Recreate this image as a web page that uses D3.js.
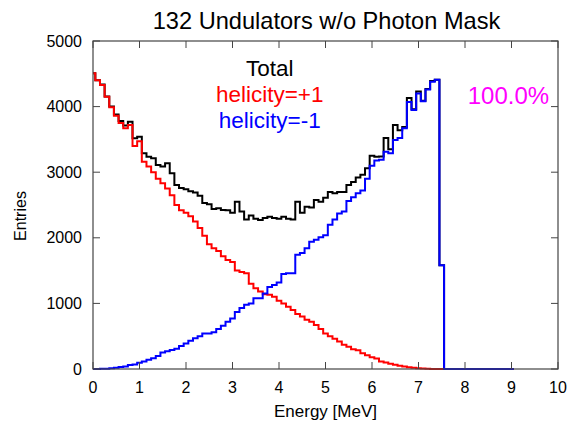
<!DOCTYPE html>
<meta charset="utf-8">
<style>
  body, html { margin: 0; padding: 0; background: #fff; }
  text { font-family: "Liberation Sans", Helvetica, Arial, sans-serif; }
</style>
<body>
<svg id="chart" width="570" height="425"></svg>
<script src="https://cdn.jsdelivr.net/npm/d3@7/dist/d3.min.js"></script>
<script>
// 0.1 MeV bins centred on multiples of 0.1 MeV
var binWidth = 0.1;
var binStart = -0.05;
var xTicks = [0, 1, 2, 3, 4, 5, 6, 7, 8, 9, 10];
var yTicks = [0, 1000, 2000, 3000, 4000, 5000];

// helicity = +1
var heliPlus = [4510, 4400, 4330, 4150, 3990, 3860, 3750, 3670, 3720, 3400,
                3470, 3160, 3085, 3000, 2900, 2830, 2750, 2650, 2500, 2420,
                2380, 2330, 2250, 2150, 2030, 1900, 1840, 1800, 1720, 1660,
                1630, 1500, 1480, 1460, 1300, 1230, 1180, 1140, 1130, 1100,
                1040, 1000, 950, 900, 840, 800, 750, 720, 670, 610,
                540, 500, 460, 420, 370, 340, 300, 285, 240, 210,
                180, 160, 115, 100, 80, 65, 50, 40, 28, 18,
                10, 6, 3, 1, 0, 0, 0, 0, 0, 0,
                0, 0, 0, 0, 0, 0, 0, 0, 0, 0, 0];

// helicity = -1
var heliMinus = [0, 0, 5, 5, 10, 20, 30, 40, 60, 70,
                 95, 115, 140, 165, 200, 250, 270, 290, 310, 350,
                 390, 430, 470, 500, 540, 540, 560, 610, 660, 720,
                 770, 870, 930, 980, 1000, 1077, 1080, 1150, 1250, 1280,
                 1320, 1450, 1460, 1460, 1740, 1770, 1840, 1940, 1970, 2010,
                 2040, 2200, 2280, 2370, 2400, 2560, 2620, 2680, 2720, 2900,
                 3100, 3180, 3190, 3310, 3290, 3490, 3520, 3670, 4070, 3950,
                 4200, 4080, 4260, 4380, 4410, 1580, 0, 0, 0, 0,
                 0, 0, 0, 0, 0, 0, 0, 0, 0, 0, 0];

// total
var total = [4510, 4400, 4335, 4155, 4000, 3880, 3780, 3710, 3770, 3516,
             3542, 3288, 3237, 3212, 3110, 3085, 3135, 2983, 2805, 2760,
             2740, 2710, 2690, 2640, 2530, 2510, 2440, 2450, 2424, 2420,
             2380, 2550, 2400, 2280, 2340, 2290, 2270, 2300, 2320, 2300,
             2290, 2322, 2290, 2280, 2550, 2380, 2474, 2460, 2576, 2550,
             2610, 2700, 2680, 2700, 2700, 2805, 2850, 2920, 2960, 3060,
             3250, 3237, 3240, 3520, 3350, 3720, 3640, 3690, 4130, 3960,
             4230, 4090, 4270, 4390, 4410, 1580, 0, 0, 0, 0,
             0, 0, 0, 0, 0, 0, 0, 0, 0, 0, 0];

var legendLabels = ["Total", "helicity=+1", "helicity=-1"];
var legendColors = ["#000000", "#ff0000", "#0000ff"];

var svg = d3.select("#chart");
var margin = {top: 41, right: 12, bottom: 56, left: 93};
var width = 570 - margin.left - margin.right,
    height = 425 - margin.top - margin.bottom;

svg.append("defs").append("clipPath").attr("id", "plotclip")
    .append("rect").attr("width", width).attr("height", height + 2).attr("y", -1);

var g = svg.append("g").attr("transform", "translate(" + margin.left + "," + margin.top + ")");

var x = d3.scaleLinear().domain([0, 10]).range([0, width]);
var y = d3.scaleLinear().domain([0, 5000]).range([height, 0]);

// histogram as step line through bin edges
function steps(vals) {
  var pts = vals.map(function(v, i) { return [binStart + i * binWidth, v]; });
  pts.push([binStart + vals.length * binWidth, vals[vals.length - 1]]);
  return pts;
}
var line = d3.line()
    .x(function(d) { return x(d[0]); })
    .y(function(d) { return y(d[1]); })
    .curve(d3.curveStepAfter);

var series = [
  {vals: total, color: "#000000"},
  {vals: heliPlus, color: "#ff0000"},
  {vals: heliMinus, color: "#0000ff"}
];
g.append("g").attr("clip-path", "url(#plotclip)")
    .selectAll(".hist")
    .data(series)
    .enter().append("path")
    .attr("class", "hist")
    .attr("fill", "none")
    .attr("stroke", function(d) { return d.color; })
    .attr("stroke-width", 2)
    .attr("d", function(d) { return line(steps(d.vals)); });

// frame
g.append("rect")
    .attr("width", width).attr("height", height)
    .attr("fill", "none").attr("stroke", "#444").attr("stroke-width", 1.2);

var tl = 7;
// x ticks bottom and top
g.selectAll(".xt").data(xTicks).enter().append("path")
    .attr("stroke", "#444")
    .attr("d", function(d) { return "M" + x(d) + "," + height + "v" + (-tl) + "M" + x(d) + ",0v" + tl; });
// y ticks left and right
g.selectAll(".yt").data(yTicks).enter().append("path")
    .attr("stroke", "#444")
    .attr("d", function(d) { return "M0," + y(d) + "h" + tl + "M" + width + "," + y(d) + "h" + (-tl); });

g.selectAll(".xl").data(xTicks).enter().append("text")
    .attr("x", function(d) { return x(d); })
    .attr("y", height + 24)
    .attr("text-anchor", "middle")
    .style("font-size", "16px")
    .text(function(d) { return d; });

g.selectAll(".yl").data(yTicks).enter().append("text")
    .attr("x", -11)
    .attr("y", function(d) { return y(d); })
    .attr("dy", "0.35em")
    .attr("text-anchor", "end")
    .style("font-size", "16px")
    .text(function(d) { return d; });

g.append("text")
    .attr("x", width / 2)
    .attr("y", height + 48)
    .attr("text-anchor", "middle")
    .style("font-size", "17px")
    .text("Energy [MeV]");

svg.append("text")
    .attr("transform", "translate(26,216) rotate(-90)")
    .attr("text-anchor", "middle")
    .style("font-size", "16px")
    .text("Entries");

svg.append("text")
    .attr("x", margin.left + width / 2 + 1)
    .attr("y", 29)
    .attr("text-anchor", "middle")
    .style("font-size", "23.6px")
    .text("132 Undulators w/o Photon Mask");

// legend
g.selectAll(".leg").data(legendLabels).enter().append("text")
    .attr("x", x(3.8))
    .attr("y", function(d, i) { return 35 + i * 26; })
    .attr("text-anchor", "middle")
    .attr("fill", function(d, i) { return legendColors[i]; })
    .style("font-size", "22.5px")
    .text(function(d) { return d; });

g.append("text")
    .attr("x", x(9.81))
    .attr("y", 63)
    .attr("text-anchor", "end")
    .attr("fill", "#ff00ff")
    .style("font-size", "24px")
    .text("100.0%");
</script>
</body>
